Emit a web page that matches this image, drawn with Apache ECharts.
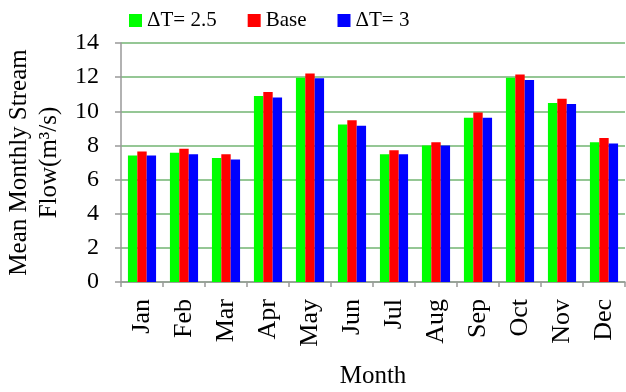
<!DOCTYPE html>
<html>
<head>
<meta charset="utf-8">
<script src="https://cdn.jsdelivr.net/npm/echarts@6/dist/echarts.min.js"></script>
<style>
  html, body { margin: 0; padding: 0; background: #fff; }
  #chart { width: 626px; height: 392px; }
</style>
</head>
<body>
<div id="chart"></div>
<script>
// Mean monthly stream flow (m3/s) under three temperature scenarios
const months = ['Jan', 'Feb', 'Mar', 'Apr', 'May', 'Jun', 'Jul', 'Aug', 'Sep', 'Oct', 'Nov', 'Dec'];
const dT25 = [7.41, 7.57, 7.26, 10.89, 11.97, 9.23, 7.49, 8.00, 9.62, 11.97, 10.48, 8.18];
const base = [7.65, 7.80, 7.49, 11.13, 12.22, 9.48, 7.72, 8.19, 9.93, 12.16, 10.73, 8.43];
const dT3  = [7.41, 7.49, 7.18, 10.81, 11.93, 9.15, 7.49, 8.00, 9.62, 11.83, 10.42, 8.12];
const yTicks = { min: 0, max: 14, interval: 2 };

const serif = 'Liberation Serif';
const chart = echarts.init(document.getElementById('chart'), null, { renderer: 'canvas' });

const barSeries = (name, data, color) => ({
  name: name,
  type: 'bar',
  data: data,
  barGap: '0%',
  barCategoryGap: '33%',
  itemStyle: { color: color },
  emphasis: { disabled: true }
});

chart.setOption({
  animation: false,
  textStyle: { fontFamily: serif },
  legend: {
    top: 5,
    left: 124,
    itemWidth: 13,
    itemHeight: 13,
    itemGap: 31,
    icon: 'rect',
    textStyle: { fontFamily: serif, fontSize: 21, color: '#000' },
    data: ['ΔT= 2.5', 'Base', 'ΔT= 3']
  },
  grid: { left: 121, right: 1, top: 43, bottom: 110, containLabel: false, outerBoundsMode: 'none' },
  xAxis: {
    type: 'category',
    data: months,
    name: 'Month',
    nameLocation: 'middle',
    nameGap: 82,
    nameTextStyle: { fontFamily: serif, fontSize: 25, color: '#000' },
    axisLine: { lineStyle: { color: '#999', width: 1.5 } },
    axisTick: { show: true, length: 5, lineStyle: { color: '#999', width: 1.5 } },
    axisLabel: { rotate: 90, margin: 17, fontFamily: serif, fontSize: 26, color: '#000' }
  },
  yAxis: {
    type: 'value',
    min: yTicks.min,
    max: yTicks.max,
    interval: yTicks.interval,
    name: 'Mean Monthly Stream\nFlow(m³/s)',
    nameLocation: 'middle',
    nameGap: 50,
    nameRotate: 90,
    nameTextStyle: { fontFamily: serif, fontSize: 25, color: '#000', lineHeight: 30, align: 'center' },
    axisLine: { show: true, lineStyle: { color: '#999', width: 1.5 } },
    axisTick: { show: true, length: 6, lineStyle: { color: '#999', width: 1.5 } },
    axisLabel: { margin: 22, fontFamily: serif, fontSize: 24, color: '#000' },
    splitLine: { lineStyle: { color: '#72b472', width: 1.5 } }
  },
  series: [
    barSeries('ΔT= 2.5', dT25, '#00ff00'),
    barSeries('Base', base, '#ff0000'),
    barSeries('ΔT= 3', dT3, '#0000ff')
  ]
});
</script>
</body>
</html>
